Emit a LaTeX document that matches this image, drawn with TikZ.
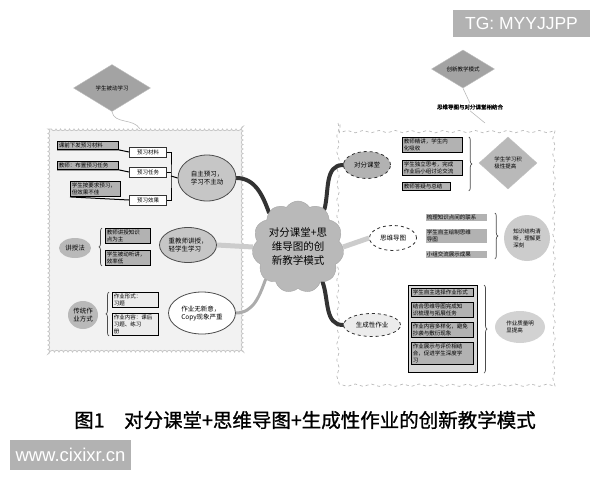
\documentclass[tikz,border=0pt]{standalone}
\usepackage{fontspec}
\setmainfont{Noto Sans CJK SC}[AutoFakeBold=1]
\newfontfamily\wmfont{Liberation Sans}
\usetikzlibrary{shapes.geometric,shapes.symbols,decorations.pathmorphing,decorations.pathreplacing}

\newcommand{\boxfont}{\fontsize{5.5}{7}\selectfont}
\newcommand{\ellfont}{\fontsize{6.5}{8}\selectfont}

\pgfdeclarelayer{bg}
\pgfdeclarelayer{mid}
\pgfsetlayers{bg,mid,main}

\begin{document}
\begin{tikzpicture}[x=1pt, y=1pt,
		panel_left/.style={fill=gray!10, draw=gray!45, line width=0.8pt, decorate, decoration={bumps, segment length=9pt, amplitude=1.6pt}},
		panel_right/.style={fill=white, draw=gray!55, dashed, line width=0.7pt, decorate, decoration={snake, segment length=16pt, amplitude=1.2pt}},
		branch_dark/.style={draw=black!80, line width=4pt, line cap=round},
		branch_light/.style={draw=gray!40, line width=5pt},
		branch_mid/.style={draw=gray!65, line width=3pt, line cap=round},
		thin_link/.style={draw=gray!55, line width=0.6pt},
		leader/.style={draw=black, line width=1pt},
		goal_diam/.style={diamond, fill=gray!72, draw=gray!50, inner sep=0pt, font=\boxfont},
		topic_ell/.style={ellipse, draw=black!80, dashed, line width=0.8pt, inner sep=0pt, font=\ellfont},
		res_ell/.style={ellipse, draw=black!70, line width=0.8pt, inner sep=0pt, align=left, font=\ellfont},
		item_box/.style={rectangle, anchor=north west, fill=gray!60, draw=black, line width=0.8pt, inner sep=1.5pt, align=left, font=\boxfont},
		sub_box/.style={rectangle, fill=white, draw=black!80, line width=1pt, inner sep=1pt, minimum width=37pt, minimum height=10pt, font=\boxfont},
		side_brace/.style={draw=black!70, line width=0.7pt, decorate, decoration={brace, amplitude=3pt}},
		water_mark/.style={fill=gray!60, text=white, inner sep=0pt, font=\wmfont}]

		\useasboundingbox (0,0) rectangle (600,-480);

		% panels
		\begin{pgfonlayer}{bg}
		\path[panel_left] (48,-129) rectangle (243,-352);
		\path[panel_right] (338,-123) rectangle (560,-378);
		\end{pgfonlayer}

		% centre
		\node[cloud, cloud puffs=11, cloud puff arc=115, aspect=1, minimum width=90pt, minimum height=92pt,
			fill=gray!55, draw=gray!70, inner sep=0pt, align=center, font=\fontsize{10.5}{14}\selectfont]
			(cloud) at (298,-247) {对分课堂+思\\维导图的创\\新教学模式};

		% top diamonds
		\node[goal_diam, minimum width=77pt, minimum height=47pt] (lt_goal) at (112,-88) {学生被动学习};
		\node[goal_diam, minimum width=63pt, minimum height=35pt] (rt_goal) at (463,-69) {创新教学模式};
		\node[font=\fontsize{5.5}{7}\selectfont\bfseries, inner sep=1pt] (rt_lbl) at (470,-107) {思维导图与对分课堂相结合};
		\coordinate (lt_in) at (140,-129);
		\coordinate (rt_in) at (485,-123);

		% left, top group
		\node[item_box, text width=58pt] (lt_a1) at (57,-141) {课前下发预习材料};
		\node[item_box, text width=58pt] (lt_a2) at (57,-161) {教师：布置预习任务};
		\node[item_box, text width=47pt] (lt_a3) at (70,-181) {学生按要求预习，\\但效果不佳};
		\node[sub_box] (lt_s1) at (148,-152) {预习材料};
		\node[sub_box] (lt_s2) at (148,-172) {预习任务};
		\node[sub_box] (lt_s3) at (148,-200) {预习效果};
		\coordinate (lt_join) at (171,-176);
		\node[res_ell, fill=gray!45, minimum width=58pt, minimum height=46pt] (lt_ell) at (207,-178) {自主预习，\\学习不主动};

		% left, middle group
		\node[res_ell, fill=gray!55, draw=none, minimum width=32pt, minimum height=20pt] (lm_ell) at (75,-248) {讲授法};
		\node[item_box, text width=42pt] (lm_b1) at (105,-228) {教师讲授知识\\点为主};
		\node[item_box, text width=42pt] (lm_b2) at (105,-250) {学生被动听讲，\\效率低};
		\node[res_ell, fill=gray!45, minimum width=57pt, minimum height=35pt] (lm_res) at (188,-245) {重教师讲授，\\轻学生学习};

		% left, bottom group
		\node[res_ell, fill=gray!55, draw=none, minimum width=30pt, minimum height=28pt] (lb_ell) at (83,-315) {传统作\\业方式};
		\node[item_box, fill=gray!15, text width=43pt] (lb_b1) at (112,-292) {作业形式：\\习题};
		\node[item_box, fill=gray!15, text width=43pt] (lb_b2) at (112,-313) {作业内容：课后\\习题、练习\\册};
		\node[res_ell, fill=white, minimum width=67pt, minimum height=42pt] (lb_res) at (202,-313) {作业无新意，\\Copy现象严重};

		% right, top group
		\node[topic_ell, fill=gray!60, minimum width=47pt, minimum height=27pt] (rt_ell) at (367,-165) {对分课堂};
		\node[item_box, text width=57pt] (rt_b1) at (402,-137) {教师精讲，学生内\\化吸收};
		\node[item_box, text width=57pt] (rt_b2) at (402,-160) {学生独立思考，完成\\作业后小组讨论交流};
		\node[item_box, text width=45pt] (rt_b3) at (402,-182) {教师答疑与总结};
		\node[goal_diam, fill=gray!55, minimum width=58pt, minimum height=52pt, align=left] (rt_res) at (508,-163) {学生学习积\\极性提高};

		% right, middle group
		\node[topic_ell, fill=white, minimum width=47pt, minimum height=25pt] (rm_ell) at (393,-238) {思维导图};
		\node[item_box, draw=white, text width=59pt] (rm_b1) at (425,-213) {梳理知识点间的联系};
		\node[item_box, draw=white, text width=59pt] (rm_b2) at (425,-228) {学生自主绘制思维\\导图};
		\node[item_box, draw=white, text width=59pt] (rm_b3) at (425,-250) {小组交流展示成果};
		\node[circle, fill=gray!40, inner sep=0pt, minimum size=46pt, align=left, font=\boxfont] (rm_res) at (527,-238) {知识结构清\\晰，理解更\\深刻};

		% right, bottom group
		\node[topic_ell, fill=gray!15, minimum width=57pt, minimum height=23pt] (rb_ell) at (372,-325) {生成性作业};
		\node[rectangle, anchor=north west, fill=gray!30, draw=black, line width=1pt, minimum width=69pt, minimum height=87pt] (rb_frame) at (408,-285) {};
		\node[item_box, text width=59pt] (rb_b1) at (411,-288) {学生自主选择作业形式};
		\node[item_box, text width=59pt] (rb_b2) at (411,-302) {结合思维导图完成知\\识梳理与拓展任务};
		\node[item_box, text width=59pt] (rb_b3) at (411,-322) {作业内容多样化，避免\\抄袭与敷衍现象};
		\node[item_box, text width=59pt] (rb_b4) at (411,-342) {作业展示与评价相结\\合，促进学生深度学\\习};
		\node[res_ell, fill=gray!35, draw=none, minimum width=50pt, minimum height=32pt, font=\boxfont] (rb_res) at (520,-327) {作业质量明\\显提高};

		% braces
		\draw[side_brace] ([xshift=-3pt]lm_b2.south west) -- ([xshift=-3pt]lm_b1.north west);
		\draw[side_brace] ([xshift=-3pt]lb_b2.south west) -- ([xshift=-3pt]lb_b1.north west);
		\draw[side_brace] ([xshift=6pt]rt_b1.north east) -- ([xshift=6pt]rt_b2.east |- rt_b3.south);
		\draw[side_brace] ([xshift=7pt]rm_b1.north east) -- ([xshift=7pt]rm_b3.south east);
		\draw[side_brace] ([xshift=6pt]rb_frame.north east) -- ([xshift=6pt]rb_frame.south east);

		% leaders, left top group
		\draw[leader] (lt_a1.south west) -- (lt_a1.south east) -- (lt_s1.west);
		\draw[leader] (lt_a2.south west) -- (lt_a2.south east) -- (lt_s2.west);
		\draw[leader] (lt_a3.south west) -- (lt_s3.west);
		\draw[leader] (lt_s1.east) -| (lt_join) |- (lt_s3.east);
		\draw[leader] (lt_s2.east) -- (lt_s2.east -| lt_join);
		\draw[leader] (lt_join) -- (lt_ell.west);

		% branches
		\begin{pgfonlayer}{mid}
		\draw[thin_link] (lt_goal.south) to[out=-80, in=120] (lt_in);
		\draw[thin_link] (rt_goal.south) -- (rt_lbl.north);
		\draw[thin_link] (rt_lbl.south) -- (rt_in);
		\draw[branch_dark] (cloud.130) to[out=110, in=0] (lt_ell.east);
		\draw[branch_dark] (cloud.55) to[out=75, in=180] (rt_ell.west);
		\draw[branch_light] (cloud.west) -- (lm_res.east);
		\draw[branch_light] (cloud.east) -- (rm_ell.west);
		\draw[branch_mid] (cloud.225) to[out=250, in=0] (lb_res.east);
		\draw[branch_dark] (cloud.305) to[out=290, in=180] (rb_ell.west);
		\end{pgfonlayer}

		% caption and marks
		\node[font=\fontsize{19.5}{22}\selectfont\bfseries] (caption) at (305,-420) {图1\hspace{1em}对分课堂+思维导图+生成性作业的创新教学模式};
		\node[water_mark, minimum width=137pt, minimum height=27pt, font=\wmfont\fontsize{17.5}{20}\selectfont] (tg_mark) at (521.5,-23.5) {TG: MYYJJPP};
		\node[water_mark, minimum width=121pt, minimum height=30pt, font=\wmfont\fontsize{18.5}{20}\selectfont] (web_mark) at (70.5,-455) {www.cixixr.cn};

		\end{tikzpicture}
\end{document}
